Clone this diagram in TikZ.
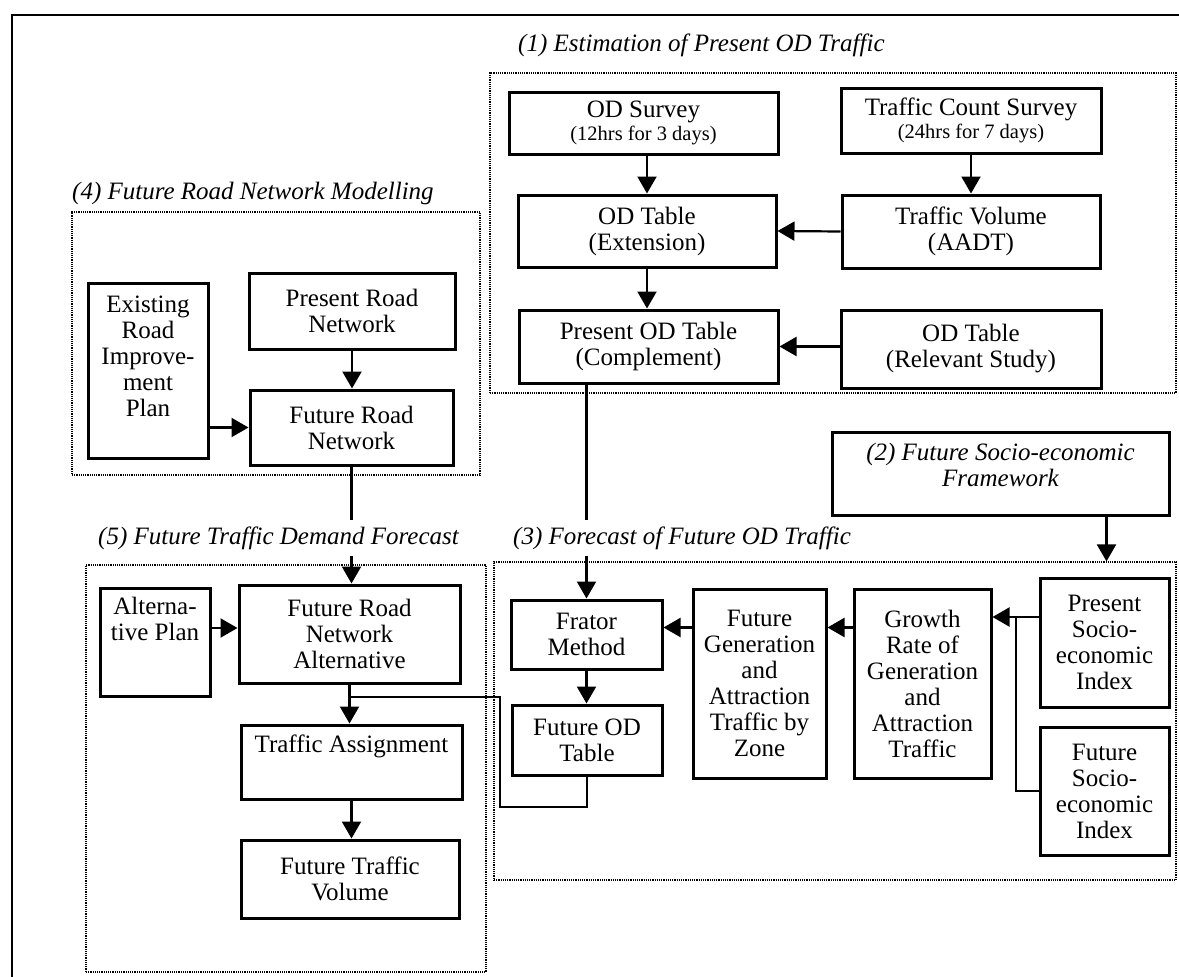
\documentclass[tikz,border=0pt]{standalone}
\usepackage{fontspec}
\setmainfont{Liberation Serif}
\usetikzlibrary{arrows.meta}
\newcommand{\bxfont}{\fontsize{25}{26}\selectfont}
\newcommand{\smfont}{\fontsize{20.5}{22}\selectfont}
\newcommand{\lbfont}{\fontsize{25}{26}\selectfont\itshape}
\tikzset{
  box/.style={draw, line width=3pt, inner sep=0pt, align=center, font=\bxfont},
  grp/.style={draw, line width=1.2pt, dash pattern=on 1.2pt off 1pt, inner sep=0pt},
  lab/.style={inner xsep=0pt, inner ysep=6pt, font=\lbfont, anchor=west},
  conn/.style={line width=2.2pt},
  arr/.style={conn, -{Triangle[length=17pt,width=19pt]}},
  outerframe/.style={line width=2.4pt},
}
% box by corners (x1,y1)-(x2,y2), text centred
\newcommand{\bx}[7][]{\node[box,#1, minimum width={#5-#3}, minimum height={#6-#4}] (#2) at ({(#3+#5)/2},{(#4+#6)/2}) {#7};}
% box by corners, text at top with padding #7
\newcommand{\bxt}[8][]{\node[box,#1] (#2) at ({(#3+#5)/2},{(#4+#6)/2}) {\parbox[c][\dimexpr#6pt-#4pt\relax][t]{\dimexpr#5pt-#3pt\relax}{\centering\vspace*{#7pt}#8}};}
\newcommand{\grpbox}[5]{\node[grp, minimum width={#4-#2}, minimum height={#5-#3}] (#1) at ({(#2+#4)/2},{(#3+#5)/2}) {};}
\begin{document}
\begin{tikzpicture}[x=1pt,y=-1pt]
\fill[white] (0,0) rectangle (1179,977);
\useasboundingbox (0,0) rectangle (1179,977);
\draw[outerframe] (12,977) -- (12,15) -- (1179,15);

% group boxes
\grpbox{g1}{490}{73}{1176}{393}
\grpbox{g4}{72}{212}{480}{475}
\grpbox{g5}{86}{565}{486}{972}
\grpbox{g3}{494}{562}{1176}{880}

% labels
\node[lab] (l1) at (518,45) {(1) Estimation of Present OD Traffic};
\node[lab] (l4) at (72,193) {(4) Future Road Network Modelling};
\node[lab] (l5) at (98,538) {(5) Future Traffic Demand Forecast};
\node[lab] (l3) at (513,538) {(3) Forecast of Future OD Traffic};

% (1)
\bx{ods}{509}{92}{778}{154}{OD Survey\\[-3pt]{\smfont (12hrs for 3 days)}}
\bx{tcs}{841}{88}{1101}{153}{Traffic Count Survey\\[-3pt]{\smfont (24hrs for 7 days)}}
\bx{odt}{518}{195}{776}{267}{OD Table\\(Extension)}
\bx{tv}{842}{195}{1100}{268}{Traffic Volume\\(AADT)}
\bx{pod}{519}{310}{778}{383}{Present OD Table\\(Complement)}
\bx{rs}{841}{310}{1101}{388}{OD Table\\(Relevant Study)}

% (4)
\bxt{erip}{88}{283}{208}{458}{13}{Existing\\Road\\Improve-\\ment\\Plan}
\bx{prn}{249}{273}{455}{349}{Present Road\\Network}
\bx{frn}{250}{390}{453}{465}{Future Road\\Network}

% (5)
\bxt{alt}{100}{588}{210}{696}{9}{Alterna-\\tive Plan}
\bx{frna}{239}{585}{460}{683}{Future Road\\Network\\Alternative}
\bxt{ta}{241}{725}{462}{799}{10}{Traffic Assignment}
\bx{ftv}{241}{840}{459}{918}{Future Traffic\\Volume}

% (2)
\bxt{fse}{832}{432}{1169}{515}{11}{\itshape (2) Future Socio-economic\\Framework}

% (3)
\bx{frator}{511}{600}{662}{669}{Frator\\Method}
\bx{fod}{512}{705}{662}{775}{Future OD\\Table}
\bx{fgen}{693}{589}{826}{778}{Future\\Generation\\and\\Attraction\\Traffic by\\Zone}
\bx{growth}{854}{589}{991}{778}{Growth\\Rate of\\Generation\\and\\Attraction\\Traffic}
\bx{psi}{1040}{578}{1169}{707}{Present\\Socio-\\economic\\Index}
\bx{fsi}{1040}{727}{1169}{855}{Future\\Socio-\\economic\\Index}

% connectors (1)
\draw[arr] (odt.north |- ods.south) -- (odt.north);
\draw[arr] (tcs.south) -- (tcs.south |- tv.north);
\draw[arr] (tv.west) -- (odt.east);
\draw[arr] (odt.south) -- (odt.south |- pod.north);
\draw[arr] (rs.west |- pod.east) -- (pod.east);

% connectors (4)
\draw[arr] (prn.south) -- (prn.south |- frn.north);
\draw[arr] (erip.east |- frn.west) -- (frn.west);

% (4) -> (5)
\draw[conn] (frn.south) -- (frn.south |- l5.north);
\draw[arr] (frn.south |- l5.south) -- (frn.south |- frna.north);

% connectors (5)
\coordinate (altin) at ([yshift=6pt]frna.west);
\draw[arr] (alt.east |- altin) -- (altin);
\draw[arr] (frna.south) -- (frna.south |- ta.north);
\draw[arr] (ta.south) -- (ta.south |- ftv.north);
\coordinate (jA) at (frna.south |- 0,697);
\coordinate (jB) at (500,807);
\draw[conn] (fod.south) |- (jB) |- (jA);

% (1) -> (3)
\draw[conn] (pod.south -| frator.north) -- (frator.north |- l3.north);
\draw[arr] (frator.north |- l3.south) -- (frator.north);

% (2) -> (3)
\draw[arr] ([xshift=106pt]fse.south) -- ([xshift=106pt]fse.south |- g3.north);

% connectors (3)
\coordinate (fgin) at ([yshift=7pt]frator.east);
\draw[arr] (fgen.west |- fgin) -- (fgin);
\draw[arr] (growth.west |- fgin) -- (fgen.east |- fgin);
\coordinate (grin) at (growth.east |- 0,617);
\coordinate (jC) at (1016,617);
\draw[arr] (psi.west |- grin) -- (grin);
\draw[conn] (fsi.west) -| (jC);
\draw[arr] (frator.south) -- (frator.south |- fod.north);
\end{tikzpicture}
\end{document}
